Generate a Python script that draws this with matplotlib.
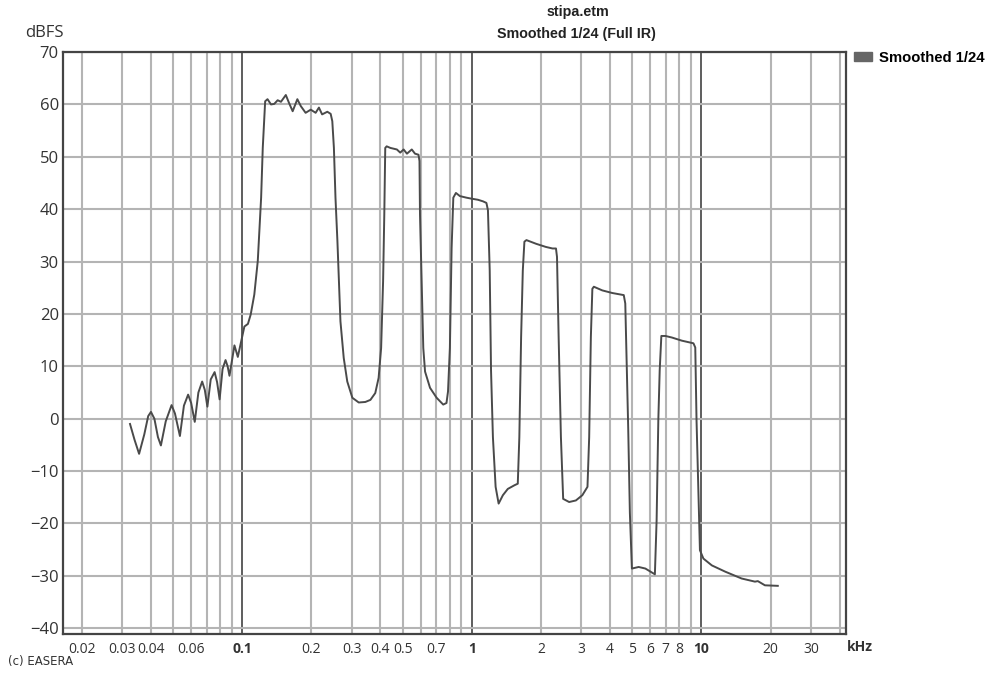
import matplotlib
matplotlib.use('Agg')
import matplotlib.pyplot as plt
from matplotlib.patches import Patch

plt.rcParams['font.family'] = ['Open Sans', 'DejaVu Sans']

# smoothed 1/24 octave response
freq_khz = [0.0325, 0.0340, 0.0356, 0.0375, 0.0390, 0.0401, 0.0415, 0.0430, 0.0443, 0.0465,
            0.0493, 0.0510, 0.0536, 0.0558, 0.0582, 0.0600, 0.0622, 0.0645, 0.0670, 0.0688,
            0.0706, 0.0730, 0.0759, 0.0778, 0.0798, 0.0822, 0.0847, 0.0865, 0.0881, 0.0926,
            0.0958, 0.1023, 0.1060, 0.1090, 0.1130,
            0.1170, 0.1210, 0.1230, 0.1260, 0.1290, 0.1336, 0.1380, 0.1428, 0.1476, 0.1550,
            0.1600, 0.1660, 0.1740, 0.1800, 0.1890, 0.1990, 0.2090, 0.2160, 0.2230, 0.2350,
            0.2430, 0.2470, 0.2510, 0.2550, 0.2600, 0.2640, 0.2680, 0.2770, 0.2870, 0.3020,
            0.3220, 0.3440, 0.3620, 0.3800, 0.3930, 0.4030, 0.4110, 0.4160, 0.4200, 0.4260,
            0.4420, 0.4720, 0.4880, 0.5050, 0.5220, 0.5480, 0.5660, 0.5860, 0.5920, 0.5950,
            0.6050, 0.6150, 0.6260, 0.6580, 0.7030, 0.7510, 0.7760, 0.7880, 0.8030, 0.8170,
            0.8310, 0.8530, 0.8880, 0.9480, 1.0000, 1.0640, 1.1190, 1.1580, 1.1760, 1.1970,
            1.2130, 1.2360, 1.2700, 1.3090, 1.3660, 1.4350, 1.5340, 1.5860, 1.6110, 1.6400,
            1.6680, 1.6950, 1.7300, 1.9050, 2.1000, 2.2470, 2.3260, 2.3500, 2.3890, 2.4440,
            2.5000, 2.6550, 2.8400, 3.0300, 3.1900, 3.2450, 3.3000, 3.3500, 3.4000, 3.7000,
            4.0900, 4.5900, 4.6600, 4.7200, 4.8000, 4.8800, 4.9800, 5.3300, 5.7000, 6.0000,
            6.2700, 6.3800, 6.4900, 6.5800, 6.6900, 6.9700, 7.4400, 8.2200, 9.2300, 9.4000,
            9.5200, 9.6900, 9.8500, 10.200, 11.100, 12.700, 14.960, 17.100, 17.600, 18.900,
            21.500]
level_db = [-1.0, -4.0, -6.7, -3.0, 0.5, 1.3, 0.0, -3.5, -5.1, -0.5,
            2.6, 1.0, -3.3, 2.5, 4.6, 3.0, -0.6, 5.0, 7.1, 5.5,
            2.3, 7.5, 8.9, 7.0, 3.7, 9.5, 11.2, 10.0, 8.2, 14.0,
            11.8, 17.6, 18.1, 19.9, 23.7,
            30.1, 42.2, 51.7, 60.6, 61.0, 60.0, 60.1, 60.8, 60.5, 61.8,
            60.3, 58.7, 61.0, 59.7, 58.4, 59.0, 58.4, 59.4, 58.1, 58.6,
            58.2, 56.8, 51.7, 42.2, 33.9, 26.2, 18.6, 11.6, 7.1, 4.0,
            3.1, 3.2, 3.6, 4.9, 7.8, 13.5, 26.2, 39.0, 51.7, 52.0,
            51.7, 51.4, 50.8, 51.4, 50.6, 51.4, 50.6, 50.4, 49.2, 39.0,
            26.2, 13.5, 9.0, 5.9, 4.0, 2.7, 3.0, 5.2, 13.5, 32.6,
            42.2, 43.1, 42.5, 42.2, 42.0, 41.8, 41.5, 41.2, 39.8, 28.3,
            9.2, -3.5, -13.0, -16.2, -14.6, -13.4, -12.7, -12.4, -3.5, 15.6,
            28.3, 33.8, 34.1, 33.4, 32.8, 32.5, 32.5, 30.9, 15.6, -3.5,
            -15.3, -15.9, -15.6, -14.6, -13.0, -3.5, 15.6, 24.8, 25.2, 24.5,
            24.0, 23.6, 22.0, 12.0, -2.0, -18.0, -28.6, -28.3, -28.6, -29.2,
            -29.7, -19.4, -0.3, 9.2, 15.8, 15.8, 15.5, 14.9, 14.4, 13.6,
            -0.3, -13.0, -25.1, -26.7, -28.0, -29.2, -30.5, -31.1, -31.0, -31.8,
            -31.9]

decade_ticks = [0.1, 1, 10]
minor_ticks = [0.02, 0.03, 0.04, 0.05, 0.06, 0.07, 0.08, 0.09,
               0.2, 0.3, 0.4, 0.5, 0.6, 0.7, 0.8, 0.9,
               2, 3, 4, 5, 6, 7, 8, 9, 20, 30, 40]
minor_labels = {0.02: '0.02', 0.03: '0.03', 0.04: '0.04', 0.06: '0.06',
                0.2: '0.2', 0.3: '0.3', 0.4: '0.4', 0.5: '0.5', 0.7: '0.7',
                2: '2', 3: '3', 4: '4', 5: '5', 6: '6', 7: '7', 8: '8',
                20: '20', 30: '30'}
y_ticks = [70, 60, 50, 40, 30, 20, 10, 0, -10, -20, -30, -40]

fig = plt.figure(figsize=(9.89, 6.75), dpi=100)
ax = fig.add_axes([0.0637, 0.0607, 0.7917, 0.8622])

ax.set_xscale('log')
ax.set_xlim(0.0166, 42.6)
ax.set_ylim(-41.1, 70)

ax.set_xticks(decade_ticks)
ax.set_xticklabels(['0.1', '1', '10'], fontweight='bold')
ax.set_xticks(minor_ticks, minor=True)
ax.set_xticklabels([minor_labels.get(t, '') for t in minor_ticks], minor=True)
ax.tick_params(axis='x', which='both', length=0, labelsize=10, pad=6, colors='#333333')
ax.set_yticks(y_ticks)
ax.tick_params(axis='y', length=0, labelsize=12, pad=3, colors='#333333')

ax.grid(True, which='minor', axis='x', color='#b4b4b4', linewidth=1.5)
ax.grid(True, which='major', axis='x', color='#505050', linewidth=1.3)
ax.grid(True, which='major', axis='y', color='#b4b4b4', linewidth=1.5)
ax.set_axisbelow(True)

for s in ax.spines.values():
    s.set_color('#444444')
    s.set_linewidth(1.6)

ax.plot(freq_khz, level_db, color='#4a4a4a', linewidth=1.4, label='Smoothed 1/24')

handles = [Patch(facecolor='#666666', edgecolor='#666666', label='Smoothed 1/24')]
leg = ax.legend(handles=handles, loc='upper left', bbox_to_anchor=(1.003, 1.012),
                frameon=False, handlelength=1.2, handleheight=0.5, handletextpad=0.45,
                borderaxespad=0.0, prop={'weight': 'bold', 'size': 10.7, 'family': 'Liberation Sans'})

fig.text(578 / 989, 1 - 12 / 675, 'stipa.etm', ha='center', va='center',
         fontsize=10.3, fontweight='bold', family='Liberation Sans', color='#222222')
fig.text(576 / 989, 1 - 34 / 675, 'Smoothed 1/24 (Full IR)', ha='center', va='center',
         fontsize=10.3, fontweight='bold', family='Liberation Sans', color='#222222')
fig.text(44 / 989, 1 - 33 / 675, 'dBFS', ha='center', va='center', fontsize=12, color='#333333')
fig.text(860 / 989, 1 - 647 / 675, 'kHz', ha='center', va='center',
         fontsize=10, fontweight='bold', color='#333333')
fig.text(8 / 989, 1 - 661 / 675, '(c) EASERA', ha='left', va='center',
         fontsize=8.5, color='#333333', family='Liberation Sans Narrow')

fig.savefig('out.png', dpi=100, facecolor='white')
